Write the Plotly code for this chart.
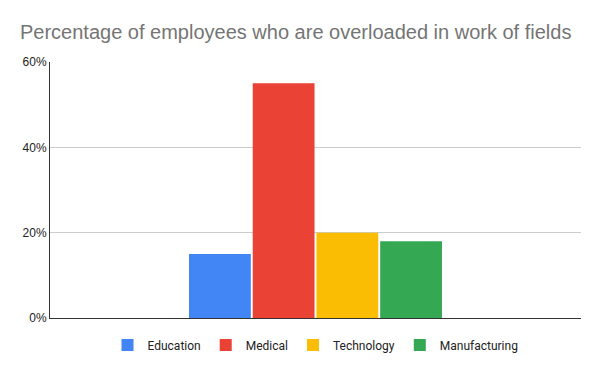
import plotly.graph_objects as go

categories = [""]
series_names = ["Education", "Medical", "Technology", "Manufacturing"]
series_values = [0.15, 0.55, 0.20, 0.18]
colors = ["#4285F4", "#EA4335", "#FBBC04", "#34A853"]
tick_vals = [0, 0.2, 0.4, 0.6]
tick_text = ["0%", "20%", "40%", "60%"]

fig = go.Figure()
for name, val, col in zip(series_names, series_values, colors):
    fig.add_trace(go.Bar(x=categories, y=[val], name=name, marker=dict(color=col, line=dict(width=0))))

fig.update_layout(
    width=600, height=371,
    paper_bgcolor="white", plot_bgcolor="white",
    margin=dict(l=50, r=19, t=62, b=52),
    barmode="group", bargap=0.52, bargroupgap=0.03,
    title=dict(text="Percentage of employees who are overloaded in work of fields",
               x=20/600, xanchor="left", y=1 - 32/371, yanchor="middle",
               font=dict(family="Liberation Sans, Arial", size=20, color="#757575")),
    showlegend=True,
    legend=dict(orientation="h", x=0.5, xanchor="center", y=-0.045, yanchor="top",
                font=dict(family="Roboto, Arial", size=12, color="#222222"),
                itemwidth=30, traceorder="normal"),
)
fig.update_yaxes(range=[0, 0.6], tickvals=tick_vals, ticktext=tick_text,
                 showgrid=True, gridcolor="#CCCCCC", gridwidth=1,
                 showline=True, linecolor="#333333", linewidth=1,
                 ticks="", zeroline=False,
                 tickfont=dict(family="Liberation Sans, Arial", size=12, color="#222222"))
fig.update_xaxes(showline=True, linecolor="#333333", linewidth=1, showticklabels=False,
                 ticks="", showgrid=False)

fig.write_html("out.html", config={"displayModeBar": False},
               post_script="document.body.style.margin='0';")
